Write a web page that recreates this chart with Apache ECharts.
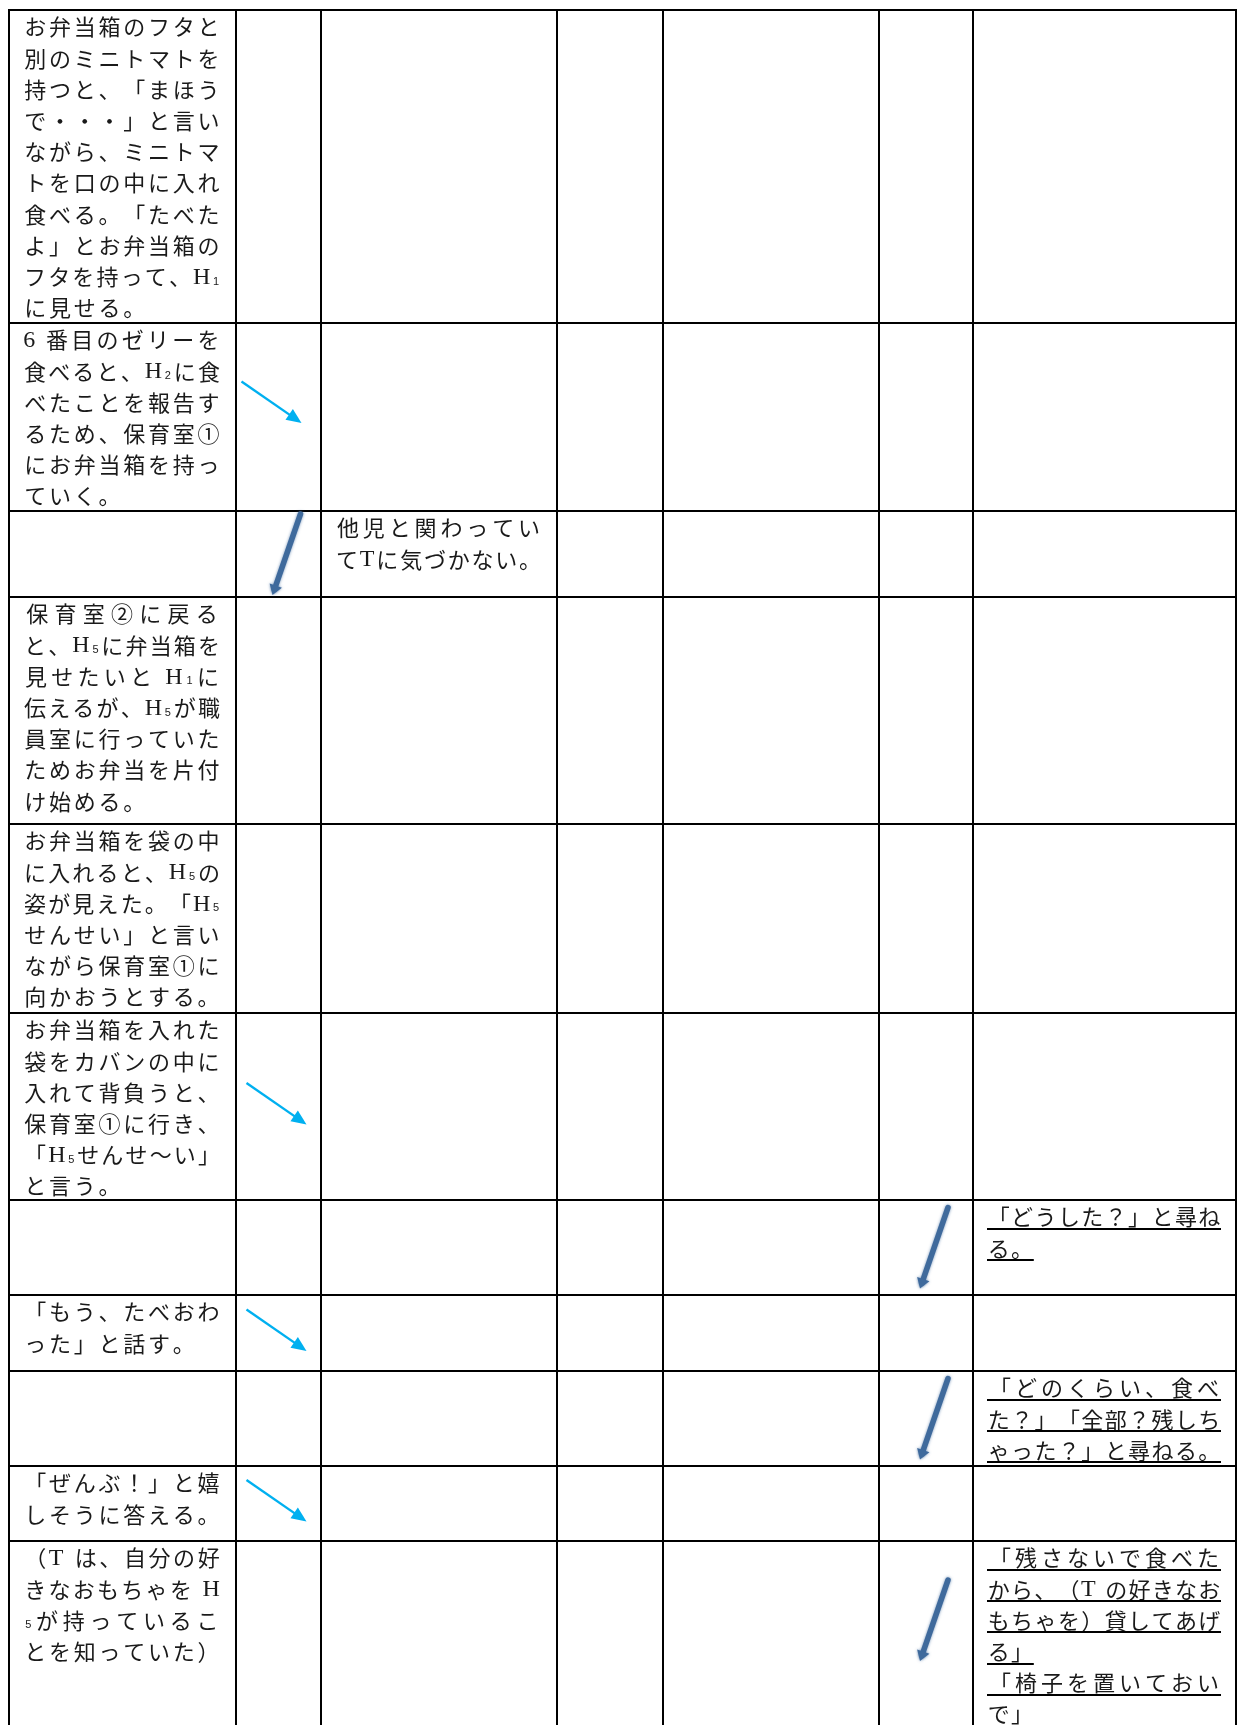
<!DOCTYPE html>
<html><head><meta charset="utf-8">
<script src="https://cdn.jsdelivr.net/npm/echarts@6/dist/echarts.min.js"></script>
<style>html,body{margin:0;padding:0;background:#fff}#c{width:1238px;height:1725px}</style>
</head><body><div id="c"></div>
<script>
// ---------- content ----------
// column 0: child's actions, one entry per row (paragraphs -> lines)
const childText = [
  [["お弁当箱のフタと","別のミニトマトを","持つと、「まほう","で・・・」と言い","ながら、ミニトマ","トを口の中に入れ","食べる。「たべた","よ」とお弁当箱の","フタを持って、H₁","に見せる。"]],
  [["6 番目のゼリーを","食べると、H₂に食","べたことを報告す","るため、保育室①","にお弁当箱を持っ","ていく。"]],
  null,
  [["保育室②に戻る","と、H₅に弁当箱を","見せたいと H₁に","伝えるが、H₅が職","員室に行っていた","ためお弁当を片付","け始める。"]],
  [["お弁当箱を袋の中","に入れると、H₅の","姿が見えた。「H₅","せんせい」と言い","ながら保育室①に","向かおうとする。"]],
  [["お弁当箱を入れた","袋をカバンの中に","入れて背負うと、","保育室①に行き、","「H₅せんせ～い」","と言う。"]],
  null,
  [["「もう、たべおわ","った」と話す。"]],
  null,
  [["「ぜんぶ！」と嬉","しそうに答える。"]],
  [["（T は、自分の好","きなおもちゃを H","₅が持っているこ","とを知っていた）"]]
];
// column 2: other child's text  [row, paragraphs]
const otherText = [
  [2, [["他児と関わってい","てTに気づかない。"]]]
];
// column 6: teacher's words (underlined)  [row, paragraphs]
const teacherText = [
  [6, [["「どうした？」と尋ね","る。"]]],
  [8, [["「どのくらい、食べ","た？」「全部？残しち","ゃった？」と尋ねる。"]]],
  [10, [["「残さないで食べた","から、（T の好きなお","もちゃを）貸してあげ","る」"],["「椅子を置いておい","で」"]]]
];
// arrows: [row, column, kind]
const arrows = [
  [1, 1, 'light'], [2, 1, 'dark'], [5, 1, 'light'], [6, 5, 'dark'],
  [7, 1, 'light'], [8, 5, 'dark'], [9, 1, 'light'], [10, 5, 'dark']
];

// ---------- layout ----------
const colEdges = [9, 236, 321, 557, 663, 879, 973, 1236];
const rowEdges = [10, 323, 511, 597, 824, 1013, 1200, 1295, 1371, 1466, 1541, 1725];
const gridChars = {0: 8, 2: 8, 6: 10};
const padL = 14, padR = 15, firstOffset = 17, lineH = 31.2;
const arrowNudge = {'1,1': [-5, -12], '10,5': [0, -13]};

const textCells = [];
childText.forEach((p, r) => { if (p) textCells.push({col: 0, row: r, paras: p, ul: false}); });
otherText.forEach(([r, p]) => textCells.push({col: 2, row: r, paras: p, ul: false}));
teacherText.forEach(([r, p]) => textCells.push({col: 6, row: r, paras: p, ul: true}));

const halfW = {'H': 0.8, 'T': 0.7, '6': 0.5, ' ': 0.35};
const subMap = {'₁': '1', '₂': '2', '₅': '5'};
function tokenize(line) {
  return Array.from(line).map(ch => {
    if (subMap[ch]) return {ch: subMap[ch], w: 0.4, sub: true};
    if (ch.charCodeAt(0) < 128) return {ch, w: halfW[ch] || 0.55, ascii: true};
    return {ch, w: 1};
  });
}

const JP = "22px 'Noto Sans CJK JP'";
const LAT = "24px 'Liberation Serif'";
const SUB = "11px 'Liberation Sans'";

function renderText(params, api) {
  const cell = textCells[params.dataIndex];
  const p0 = api.coord([colEdges[cell.col], rowEdges[cell.row]]);
  const p1 = api.coord([colEdges[cell.col + 1], rowEdges[cell.row]]);
  const x0 = p0[0], y0 = p0[1];
  const W = p1[0] - x0 - padL - padR;
  const base = W / gridChars[cell.col];
  const children = [];
  let li = 0;
  cell.paras.forEach(para => para.forEach((line, k) => {
    const toks = tokenize(line);
    const U = toks.reduce((s, t) => s + t.w, 0);
    const last = k === para.length - 1;
    const pitch = last ? Math.min(base, W / U) : W / U;
    const cy = y0 + firstOffset + li * lineH;
    let cum = 0;
    toks.forEach(t => {
      const cx = x0 + padL + (cum + t.w / 2) * pitch;
      cum += t.w;
      if (t.ch === ' ') return;
      children.push({
        type: 'text', silent: true,
        style: {
          text: t.ch, x: cx, y: cy + (t.sub ? 5 : (t.ascii ? 1 : 0)),
          align: 'center', verticalAlign: 'middle',
          textAlign: 'center', textVerticalAlign: 'middle',
          font: t.sub ? SUB : (t.ascii ? LAT : JP), fill: '#1a1a1a'
        }
      });
    });
    if (cell.ul) {
      const uy = Math.round(cy + 12);
      children.push({type: 'line', silent: true,
        shape: {x1: x0 + padL, y1: uy, x2: x0 + padL + U * pitch, y2: uy},
        style: {stroke: '#000', lineWidth: 2.2}});
    }
    li++;
  }));
  return {type: 'group', children};
}

function renderGrid(params, api) {
  const children = [];
  const top = rowEdges[0], bottom = rowEdges[rowEdges.length - 1] + 20;
  colEdges.forEach(x => {
    const a = api.coord([x, top]), b = api.coord([x, bottom]);
    children.push({type: 'line', shape: {x1: a[0], y1: a[1] - 1, x2: b[0], y2: b[1]}, style: {stroke: '#000', lineWidth: 2}});
  });
  rowEdges.slice(0, -1).forEach(y => {
    const a = api.coord([colEdges[0], y]), b = api.coord([colEdges[colEdges.length - 1], y]);
    children.push({type: 'line', shape: {x1: a[0] - 1, y1: a[1], x2: b[0] + 1, y2: b[1]}, style: {stroke: '#000', lineWidth: 2}});
  });
  return {type: 'group', children};
}

function renderArrow(params, api) {
  const [r, c, kind] = arrows[params.dataIndex];
  const nudge = arrowNudge[r + ',' + c] || [0, 0];
  const a = api.coord([(colEdges[c] + colEdges[c + 1]) / 2, (rowEdges[r] + rowEdges[r + 1]) / 2]);
  const cx = a[0] + nudge[0], cy = a[1] + nudge[1];
  let S, E, color, lw, headL, headW, extra;
  if (kind === 'light') {
    S = [cx - 32, cy - 23.5]; E = [cx + 28, cy + 18];
    color = '#00b0f0'; lw = 2.4; headL = 15; headW = 6.5;
    extra = {};
  } else {
    S = [cx + 22, cy - 40]; E = [cx - 6, cy + 41];
    color = '#3f6a9c'; lw = 5.5; headL = 10; headW = 6.5;
    extra = {shadowBlur: 3, shadowColor: 'rgba(63,106,156,0.7)'};
  }
  const dx = E[0] - S[0], dy = E[1] - S[1], L = Math.hypot(dx, dy);
  const ux = dx / L, uy = dy / L, px = -uy, py = ux;
  const B = [E[0] - ux * headL, E[1] - uy * headL];
  const shaftEnd = [E[0] - ux * headL * 0.6, E[1] - uy * headL * 0.6];
  return {type: 'group', children: [
    {type: 'line', shape: {x1: S[0], y1: S[1], x2: shaftEnd[0], y2: shaftEnd[1]},
     style: Object.assign({stroke: color, lineWidth: lw, lineCap: kind === 'dark' ? 'round' : 'butt'}, extra)},
    {type: 'polygon', shape: {points: [E, [B[0] + px * headW, B[1] + py * headW], [B[0] - px * headW, B[1] - py * headW]]},
     style: Object.assign({fill: color}, extra)}
  ]};
}

const chart = echarts.init(document.getElementById('c'), null, {renderer: 'canvas'});
chart.setOption({
  animation: false,
  backgroundColor: '#fff',
  grid: {left: 0, right: 0, top: 0, bottom: 0},
  xAxis: {type: 'value', min: 0, max: 1238, show: false},
  yAxis: {type: 'value', min: 0, max: 1725, inverse: true, show: false},
  tooltip: {show: false},
  series: [
    {type: 'custom', name: 'table', renderItem: renderGrid, data: [[0, 0]], silent: true, z: 1},
    {type: 'custom', name: 'arrows', renderItem: renderArrow, data: arrows.map((a, i) => [i, a[0]]), silent: true, z: 2},
    {type: 'custom', name: 'texts', renderItem: renderText, data: textCells.map((t, i) => [i, t.row]), silent: true, z: 3}
  ]
});
</script></body></html>
